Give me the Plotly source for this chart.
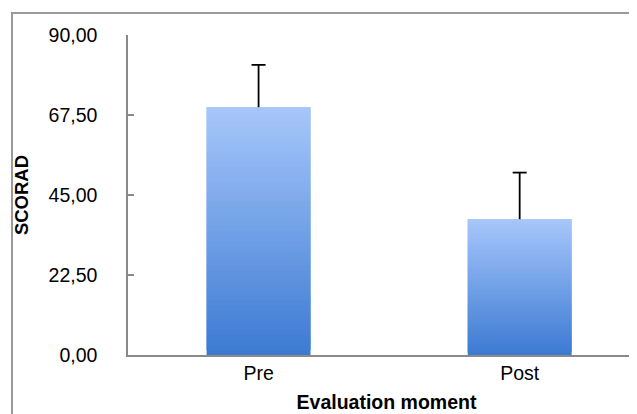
import plotly.graph_objects as go

categories = ["Pre", "Post"]
scorad_mean = [69.7, 38.2]
scorad_sd = [11.9, 13.1]
tick_values = [0, 22.5, 45, 67.5, 90]
tick_labels = ["0,00", "22,50", "45,00", "67,50", "90,00"]

FONT = "Liberation Sans, Arial, sans-serif"
bottom_rgb = (61, 123, 211)
top_rgb = (166, 198, 250)
N = 50

fig = go.Figure()
for i in range(N):
    t = i / (N - 1)
    c = tuple(round(b + (tp - b) * t) for b, tp in zip(bottom_rgb, top_rgb))
    last = i == N - 1
    fig.add_trace(go.Bar(
        x=categories,
        y=[v / N if last else 2 * v / N for v in scorad_mean],
        base=[v * i / N for v in scorad_mean],
        width=0.398,
        marker=dict(color="rgb(%d,%d,%d)" % c, line=dict(width=0)),
        hoverinfo="skip",
        showlegend=False,
    ))

# upper-only error bars: stem + cap
stem_x, stem_y = [], []
for cat, m, s in zip(categories, scorad_mean, scorad_sd):
    stem_x += [cat, cat, None]
    stem_y += [m, m + s, None]
fig.add_trace(go.Scatter(
    x=stem_x, y=stem_y, mode="lines",
    line=dict(color="black", width=1.8),
    hoverinfo="skip", showlegend=False,
))
fig.add_trace(go.Scatter(
    x=categories, y=[m + s for m, s in zip(scorad_mean, scorad_sd)],
    mode="markers",
    marker=dict(symbol="line-ew", size=10, line=dict(color="black", width=1.8)),
    hoverinfo="skip", showlegend=False,
))

fig.update_layout(
    width=637, height=414,
    barmode="overlay",
    paper_bgcolor="white", plot_bgcolor="white",
    margin=dict(l=120, r=0, t=27, b=67),
    font=dict(family=FONT, size=19.5, color="black"),
    xaxis=dict(
        range=[-0.5, 1.48], automargin=False,
        showline=True, linecolor="#8a8a8a", linewidth=1.5,
        ticks="", showgrid=False, zeroline=False,
        tickfont=dict(size=19.5),
        title=dict(text="<b>Evaluation moment</b>", font=dict(size=19.5), standoff=12),
    ),
    yaxis=dict(
        range=[0, 90], automargin=False,
        tickvals=tick_values, ticktext=tick_labels,
        showline=True, linecolor="#8a8a8a", linewidth=1.5,
        ticks="inside", ticklen=6, tickcolor="#8a8a8a", tickwidth=1.5,
        showgrid=False, zeroline=False,
        ticklabelstandoff=25,
        tickfont=dict(size=19.5),
        title=dict(text="<b>SCORAD</b>", font=dict(size=18.5), standoff=15),
    ),
    shapes=[dict(
        type="rect", xref="paper", yref="paper",
        x0=(4 - 120) / 517, x1=1.5, y0=-0.6, y1=(347 - 5) / 320,
        line=dict(color="#9a9a9a", width=2), fillcolor="rgba(0,0,0,0)", layer="above",
    )],
)

fig.write_html("out.html")
